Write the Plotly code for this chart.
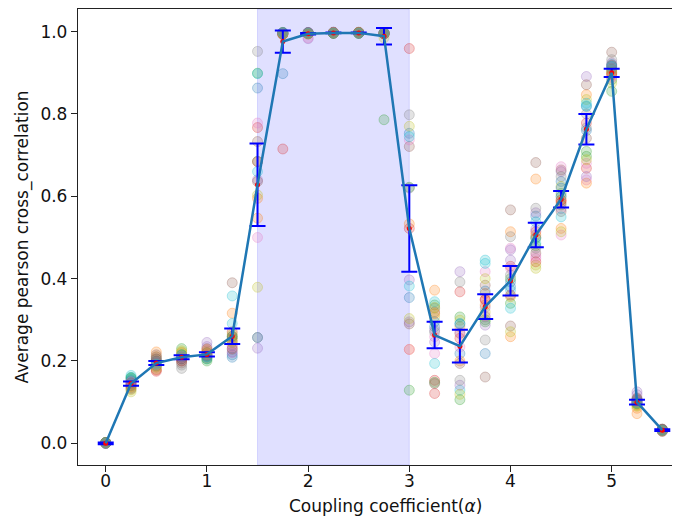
import plotly.graph_objects as go

# Coupling coefficient values
alpha = [0.0, 0.25, 0.5, 0.75, 1.0, 1.25, 1.5, 1.75, 2.0, 2.25, 2.5, 2.75,
         3.0, 3.25, 3.5, 3.75, 4.0, 4.25, 4.5, 4.75, 5.0, 5.25, 5.5]

# Average (mean) curve and error bar half-lengths
mean_corr = [0.000, 0.145, 0.195, 0.209, 0.216, 0.260, 0.628, 0.976, 0.995, 0.997, 0.997, 0.989,
             0.522, 0.263, 0.236, 0.332, 0.395, 0.506, 0.593, 0.763, 0.900, 0.100, 0.032]
err_corr = [0.002, 0.005, 0.005, 0.005, 0.005, 0.019, 0.100, 0.027, 0.002, 0.001, 0.001, 0.020,
            0.105, 0.032, 0.040, 0.030, 0.036, 0.030, 0.020, 0.037, 0.010, 0.006, 0.002]

# Individual runs (20 runs) per coupling value
p_000 = [0.001, 0.000, 0.002, 0.001, 0.000, 0.001, 0.002, 0.000, 0.001, 0.002,
         0.000, 0.001, 0.002, 0.001, 0.000, 0.001, 0.000, 0.002, 0.001, 0.000]
p_025 = [0.155, 0.140, 0.160, 0.145, 0.150, 0.135, 0.148, 0.142, 0.125, 0.165,
         0.152, 0.138, 0.158, 0.147, 0.144, 0.132, 0.150, 0.140, 0.130, 0.160]
p_050 = [0.205, 0.222, 0.190, 0.175, 0.198, 0.215, 0.185, 0.200, 0.180, 0.195,
         0.200, 0.210, 0.188, 0.178, 0.195, 0.205, 0.190, 0.210, 0.185, 0.192]
p_075 = [0.210, 0.215, 0.230, 0.205, 0.212, 0.200, 0.208, 0.182, 0.225, 0.210,
         0.205, 0.220, 0.215, 0.200, 0.210, 0.195, 0.212, 0.190, 0.222, 0.215]
p_100 = [0.215, 0.225, 0.200, 0.212, 0.245, 0.230, 0.218, 0.210, 0.222, 0.205,
         0.212, 0.228, 0.205, 0.215, 0.235, 0.220, 0.215, 0.208, 0.218, 0.210]
p_125 = [0.209, 0.316, 0.255, 0.271, 0.238, 0.390, 0.220, 0.246, 0.265, 0.358,
         0.215, 0.250, 0.260, 0.230, 0.222, 0.259, 0.235, 0.228, 0.245, 0.291]
p_150 = [0.863, 0.595, 0.899, 0.767, 0.640, 0.733, 0.778, 0.952, 0.379, 0.898,
         0.257, 0.547, 0.685, 0.684, 0.231, 0.636, 0.500, 0.257, 0.603, 0.660]
p_175 = [0.898, 0.995, 0.997, 0.715, 0.993, 0.996, 0.994, 0.998, 0.995, 0.997,
         0.996, 0.994, 0.998, 0.995, 0.997, 0.993, 0.996, 0.998, 0.994, 0.997]
p_200 = [0.996, 0.997, 0.995, 0.998, 0.983, 0.996, 0.985, 0.997, 0.996, 0.998,
         0.997, 0.995, 0.996, 0.997, 0.998, 0.994, 0.996, 0.997, 0.995, 0.996]
p_225 = [0.997, 0.996, 0.998, 0.997, 0.996, 0.998, 0.997, 0.999, 0.996, 0.997,
         0.998, 0.997, 0.996, 0.998, 0.997, 0.996, 0.998, 0.997, 0.997, 0.996]
p_250 = [0.998, 0.997, 0.996, 0.998, 0.997, 0.996, 0.998, 0.997, 0.999, 0.996,
         0.997, 0.998, 0.996, 0.997, 0.998, 0.997, 0.996, 0.998, 0.997, 0.996]
p_275 = [0.996, 0.995, 0.786, 0.997, 0.995, 0.996, 0.994, 0.997, 0.985, 0.996,
         0.995, 0.997, 0.996, 0.995, 0.997, 0.994, 0.996, 0.997, 0.995, 0.996]
p_300 = [0.753, 0.533, 0.622, 0.959, 0.397, 0.721, 0.737, 0.798, 0.770, 0.382,
         0.354, 0.228, 0.129, 0.522, 0.295, 0.290, 0.228, 0.620, 0.303, 0.745]
p_325 = [0.283, 0.372, 0.336, 0.153, 0.275, 0.319, 0.259, 0.328, 0.307, 0.344,
         0.295, 0.315, 0.148, 0.121, 0.246, 0.145, 0.218, 0.270, 0.330, 0.194]
p_350 = [0.218, 0.283, 0.307, 0.368, 0.417, 0.267, 0.234, 0.392, 0.299, 0.129,
         0.290, 0.200, 0.106, 0.255, 0.141, 0.194, 0.270, 0.153, 0.119, 0.291]
p_375 = [0.218, 0.364, 0.295, 0.350, 0.330, 0.384, 0.417, 0.307, 0.400, 0.445,
         0.370, 0.336, 0.300, 0.348, 0.287, 0.161, 0.310, 0.251, 0.319, 0.437]
p_400 = [0.392, 0.514, 0.340, 0.430, 0.445, 0.567, 0.474, 0.502, 0.356, 0.372,
         0.380, 0.259, 0.400, 0.360, 0.470, 0.285, 0.425, 0.409, 0.271, 0.328]
p_425 = [0.552, 0.642, 0.498, 0.514, 0.560, 0.682, 0.449, 0.571, 0.433, 0.538,
         0.500, 0.506, 0.480, 0.441, 0.520, 0.462, 0.455, 0.474, 0.425, 0.486]
p_450 = [0.636, 0.522, 0.607, 0.591, 0.660, 0.664, 0.672, 0.648, 0.624, 0.599,
         0.620, 0.590, 0.579, 0.585, 0.570, 0.563, 0.506, 0.600, 0.514, 0.550]
p_475 = [0.818, 0.847, 0.709, 0.778, 0.891, 0.871, 0.640, 0.766, 0.835, 0.826,
         0.760, 0.632, 0.697, 0.668, 0.648, 0.741, 0.680, 0.800, 0.689, 0.820]
p_500 = [0.916, 0.910, 0.883, 0.899, 0.924, 0.950, 0.891, 0.932, 0.875, 0.905,
         0.920, 0.900, 0.855, 0.895, 0.912, 0.918, 0.888, 0.908, 0.902, 0.915]
p_525 = [0.102, 0.072, 0.095, 0.098, 0.125, 0.110, 0.100, 0.105, 0.092, 0.098,
         0.104, 0.085, 0.096, 0.101, 0.118, 0.108, 0.102, 0.106, 0.090, 0.099]
p_550 = [0.032, 0.030, 0.034, 0.031, 0.033, 0.029, 0.032, 0.035, 0.030, 0.031,
         0.033, 0.032, 0.030, 0.034, 0.031, 0.032, 0.029, 0.033, 0.031, 0.032]

columns = [p_000, p_025, p_050, p_075, p_100, p_125, p_150, p_175, p_200, p_225, p_250, p_275,
           p_300, p_325, p_350, p_375, p_400, p_425, p_450, p_475, p_500, p_525, p_550]

# shaded synchronisation window
span_start, span_end = 1.5, 3.0

x_ticks = [0, 1, 2, 3, 4, 5]
y_ticks = [0.0, 0.2, 0.4, 0.6, 0.8, 1.0]

tab10 = [(31, 119, 180), (255, 127, 14), (44, 160, 44), (214, 39, 40), (148, 103, 189),
         (140, 86, 75), (227, 119, 194), (127, 127, 127), (188, 189, 34), (23, 190, 207)]

fig = go.Figure()

n_runs = len(columns[0])
for r in range(n_runs):
    c = tab10[r % 10]
    fig.add_trace(go.Scatter(
        x=alpha, y=[col[r] for col in columns], mode="markers",
        marker=dict(size=10, color=f"rgba({c[0]},{c[1]},{c[2]},0.22)",
                    line=dict(width=1, color=f"rgba({c[0]},{c[1]},{c[2]},0.3)")),
        showlegend=False, hoverinfo="skip"))

fig.add_trace(go.Scatter(
    x=alpha, y=mean_corr, mode="markers",
    marker=dict(size=5, color="red"),
    error_y=dict(type="data", array=err_corr, color="#0000ff", thickness=2, width=8),
    showlegend=False))

fig.add_trace(go.Scatter(
    x=alpha, y=mean_corr, mode="lines",
    line=dict(color="#1f77b4", width=2.5),
    showlegend=False))

fig.add_shape(type="rect", xref="x", yref="paper", x0=span_start, x1=span_end, y0=0, y1=1,
              fillcolor="rgba(0,0,255,0.12)", line=dict(color="rgba(0,0,255,0.12)", width=1),
              layer="below")

axis_common = dict(showgrid=False, zeroline=False, showline=True, linecolor="#222",
                   linewidth=1.3, ticks="outside", ticklen=6, tickwidth=1.3, tickcolor="#222",
                   tickfont=dict(family="DejaVu Sans", size=17, color="#111"))

# the page body adds an 8px offset, so the figure is 8px smaller than the window
fig.update_layout(
    width=672, height=512,
    margin=dict(l=70, r=0, t=1, b=55),
    plot_bgcolor="white", paper_bgcolor="white",
    xaxis=dict(range=[-0.274, 5.675], tickvals=x_ticks, ticktext=[str(v) for v in x_ticks],
               mirror=True, ticklabelstandoff=-6, **axis_common),
    yaxis=dict(range=[-0.0527, 1.055], tickvals=y_ticks, ticktext=[f"{v:.1f}" for v in y_ticks],
               mirror=False, **axis_common),
    annotations=[
        dict(text="Coupling coefficient(<i>α</i>)", xref="paper", yref="paper",
             x=0.510, y=-0.0899, xanchor="center", yanchor="middle", showarrow=False,
             font=dict(family="DejaVu Sans", size=17, color="#111")),
        dict(text="Average pearson cross_correlation", xref="paper", yref="paper",
             x=-0.093, y=0.499, xanchor="center", yanchor="middle", showarrow=False,
             textangle=-90, font=dict(family="DejaVu Sans", size=17, color="#111")),
    ],
)

fig.write_html("out.html", config={"displayModeBar": False})
